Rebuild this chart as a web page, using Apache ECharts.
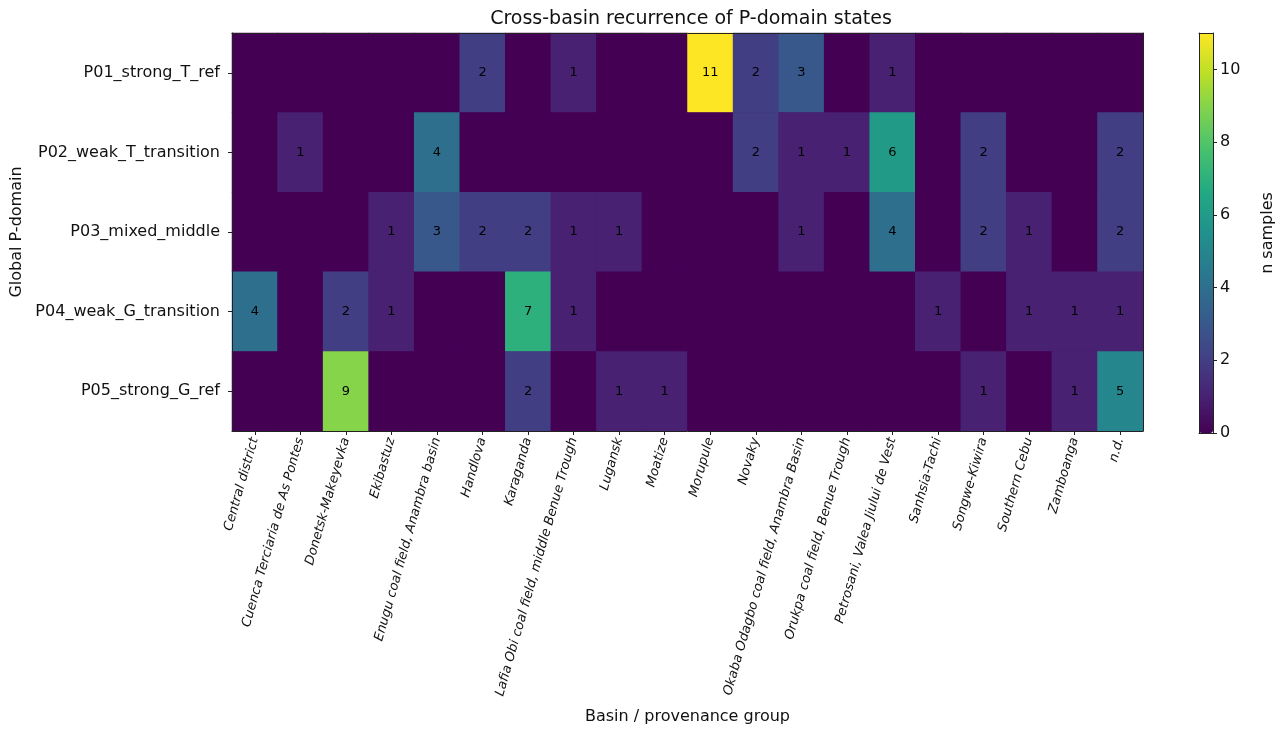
<!DOCTYPE html>
<html>
<head>
<meta charset="utf-8">
<title>Cross-basin recurrence of P-domain states</title>
<script src="https://cdn.jsdelivr.net/npm/echarts@6/dist/echarts.min.js"></script>
<style>
  html, body { margin: 0; padding: 0; background: #fff; }
  #chart { width: 1281px; height: 730px; }
</style>
</head>
<body>
<div id="chart"></div>
<script>
// Basin / provenance groups (columns)
const basins = [
  'Central district', 'Cuenca Terciaria de As Pontes', 'Donetsk-Makeyevka', 'Ekibastuz',
  'Enugu coal field, Anambra basin', 'Handlova', 'Karaganda',
  'Lafia Obi coal field, middle Benue Trough', 'Lugansk', 'Moatize', 'Morupule', 'Novaky',
  'Okaba Odagbo coal field, Anambra Basin', 'Orukpa coal field, Benue Trough',
  'Petrosani, Valea Jiului de Vest', 'Sanhsia-Tachi', 'Songwe-Kiwira', 'Southern Cebu',
  'Zamboanga', 'n.d.'
];

// Global P-domain states (rows, top to bottom)
const domains = [
  'P01_strong_T_ref', 'P02_weak_T_transition', 'P03_mixed_middle',
  'P04_weak_G_transition', 'P05_strong_G_ref'
];

// Sample counts per basin for each P-domain
const p01 = [0, 0, 0, 0, 0, 2, 0, 1, 0, 0, 11, 2, 3, 0, 1, 0, 0, 0, 0, 0];
const p02 = [0, 1, 0, 0, 4, 0, 0, 0, 0, 0, 0, 2, 1, 1, 6, 0, 2, 0, 0, 2];
const p03 = [0, 0, 0, 1, 3, 2, 2, 1, 1, 0, 0, 0, 1, 0, 4, 0, 2, 1, 0, 2];
const p04 = [4, 0, 2, 1, 0, 0, 7, 1, 0, 0, 0, 0, 0, 0, 0, 1, 0, 1, 1, 1];
const p05 = [0, 0, 9, 0, 0, 0, 2, 0, 1, 1, 0, 0, 0, 0, 0, 0, 1, 0, 1, 5];

// Colour bar range and tick labels
const countMin = 0;
const countMax = 11;
const countTicks = [0, 2, 4, 6, 8, 10];

const rows = [p01, p02, p03, p04, p05];
const cells = [];
rows.forEach((row, yi) => {
  row.forEach((v, xi) => cells.push([xi, yi, v]));
});

const viridis = ['#440154', '#482475', '#414487', '#355f8d', '#2a788e', '#21918c',
                 '#22a884', '#44bf70', '#7ad151', '#bddf26', '#fde725'];

const FONT = 'DejaVu Sans';
const INK = '#222';
const frameLine = { show: true, onZero: false, lineStyle: { color: INK, width: 1 } };

const chart = echarts.init(document.getElementById('chart'), null, { renderer: 'canvas' });

chart.setOption({
  animation: false,
  backgroundColor: '#fff',
  textStyle: { fontFamily: FONT },
  title: {
    text: 'Cross-basin recurrence of P-domain states',
    left: 686, top: 5, textAlign: 'center',
    textStyle: { fontFamily: FONT, fontSize: 19, fontWeight: 'normal', color: '#111' }
  },
  grid: [
    // heatmap area; background matches the lowest colour so cell seams stay invisible
    { left: 232, top: 33, width: 911, height: 400, containLabel: false,
      show: true, backgroundColor: viridis[0], borderWidth: 0 },
    // colour bar area
    { left: 1199, top: 33, width: 14, height: 400, containLabel: false }
  ],
  xAxis: [
    {
      type: 'category', gridIndex: 0, data: basins, z: 5,
      name: 'Basin / provenance group', nameLocation: 'middle', nameGap: 278,
      nameTextStyle: { fontFamily: FONT, fontSize: 16, color: '#111' },
      axisLine: frameLine,
      axisTick: { show: true, alignWithLabel: true, length: 4, lineStyle: { color: INK } },
      axisLabel: {
        rotate: 74, interval: 0, margin: 7, fontFamily: FONT, fontSize: 13,
        fontStyle: 'italic', color: '#111'
      },
      splitLine: { show: false }
    },
    {
      type: 'category', gridIndex: 0, data: basins, position: 'top', z: 5,
      axisLine: frameLine,
      axisTick: { show: false }, axisLabel: { show: false }, splitLine: { show: false }
    },
    {
      type: 'value', gridIndex: 1, min: 0, max: 1, position: 'bottom', z: 6,
      axisLine: frameLine, axisTick: { show: false }, axisLabel: { show: false },
      splitLine: { show: false }
    },
    {
      type: 'value', gridIndex: 1, min: 0, max: 1, position: 'top', z: 6,
      axisLine: frameLine, axisTick: { show: false }, axisLabel: { show: false },
      splitLine: { show: false }
    }
  ],
  yAxis: [
    {
      type: 'category', gridIndex: 0, data: domains, inverse: true, z: 5,
      name: 'Global P-domain', nameLocation: 'middle', nameGap: 205, nameRotate: 90,
      nameTextStyle: { fontFamily: FONT, fontSize: 16, color: '#111' },
      axisLine: frameLine,
      axisTick: { show: true, alignWithLabel: true, length: 4, lineStyle: { color: INK } },
      axisLabel: { margin: 12, fontFamily: FONT, fontSize: 16, color: '#111' },
      splitLine: { show: false }
    },
    {
      type: 'category', gridIndex: 0, data: domains, inverse: true, position: 'right', z: 5,
      axisLine: frameLine,
      axisTick: { show: false }, axisLabel: { show: false }, splitLine: { show: false }
    },
    {
      type: 'value', gridIndex: 1, position: 'right', z: 6,
      min: countMin, max: countMax,
      name: 'n samples', nameLocation: 'middle', nameGap: 47, nameRotate: 90,
      nameTextStyle: { fontFamily: FONT, fontSize: 16, color: '#111' },
      axisLine: frameLine,
      axisTick: { show: true, inside: false, length: 4, customValues: countTicks,
                  lineStyle: { color: INK } },
      axisLabel: { margin: 7, fontFamily: FONT, fontSize: 16, color: '#111',
                   customValues: countTicks },
      splitLine: { show: false }
    },
    {
      type: 'value', gridIndex: 1, position: 'left', z: 6,
      min: countMin, max: countMax,
      axisLine: frameLine, axisTick: { show: false }, axisLabel: { show: false },
      splitLine: { show: false }
    }
  ],
  visualMap: {
    type: 'continuous',
    seriesIndex: 0,
    min: countMin, max: countMax,
    calculable: false, realtime: false,
    orient: 'vertical',
    left: 1199, top: 33, padding: 0,
    itemWidth: 14, itemHeight: 400,
    text: null, showLabel: false,
    inRange: { color: viridis }
  },
  series: [
    {
      type: 'heatmap',
      xAxisIndex: 0, yAxisIndex: 0,
      data: cells,
      itemStyle: { borderWidth: 0 },
      emphasis: { disabled: true },
      label: {
        show: true, fontFamily: FONT, fontSize: 13, color: '#000',
        formatter: p => (p.value[2] > 0 ? String(p.value[2]) : '')
      }
    }
  ]
});
</script>
</body>
</html>
